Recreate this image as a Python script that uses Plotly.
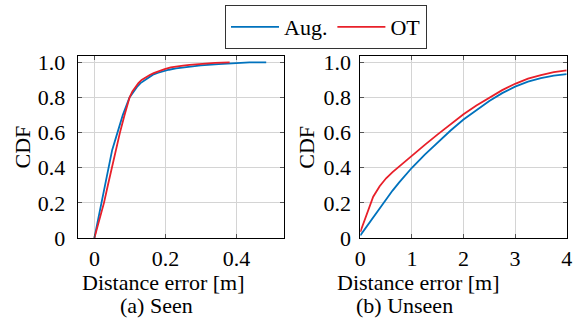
import plotly.graph_objects as go

# ---- data: (a) Seen ----
seen_aug_x = [0, 0.005, 0.01, 0.018, 0.028, 0.039, 0.05, 0.065, 0.08, 0.099, 0.11, 0.12, 0.13, 0.142, 0.155, 0.165, 0.18, 0.194, 0.21, 0.23, 0.25, 0.268, 0.3, 0.35, 0.4, 0.437, 0.484]
seen_aug_y = [0, 0.05, 0.1, 0.2, 0.3, 0.4, 0.5, 0.6, 0.7, 0.8, 0.835, 0.86, 0.882, 0.9, 0.917, 0.93, 0.941, 0.95, 0.958, 0.966, 0.971, 0.975, 0.983, 0.99, 0.995, 1.0, 1.0]
seen_ot_x = [0, 0.007, 0.014, 0.027, 0.038, 0.049, 0.06, 0.072, 0.085, 0.099, 0.107, 0.115, 0.124, 0.133, 0.145, 0.156, 0.167, 0.177, 0.19, 0.198, 0.215, 0.23, 0.25, 0.268, 0.3, 0.34, 0.381]
seen_ot_y = [0, 0.05, 0.1, 0.2, 0.3, 0.4, 0.5, 0.6, 0.7, 0.8, 0.835, 0.86, 0.882, 0.9, 0.916, 0.928, 0.939, 0.947, 0.956, 0.962, 0.971, 0.977, 0.982, 0.986, 0.992, 0.997, 1.0]

# ---- data: (b) Unseen ----
unseen_x = [0, 0.05, 0.15, 0.25, 0.375, 0.5, 0.625, 0.75, 0.875, 1.0, 1.25, 1.5, 1.75, 2.0, 2.25, 2.5, 2.75, 3.0, 3.25, 3.5, 3.75, 4.0]
unseen_aug_y = [0.015, 0.035, 0.075, 0.118, 0.17, 0.222, 0.27, 0.315, 0.358, 0.40, 0.475, 0.545, 0.612, 0.675, 0.73, 0.78, 0.825, 0.862, 0.89, 0.91, 0.924, 0.933]
unseen_ot_y = [0.034, 0.075, 0.16, 0.235, 0.295, 0.34, 0.375, 0.407, 0.438, 0.467, 0.53, 0.59, 0.65, 0.705, 0.755, 0.80, 0.842, 0.878, 0.907, 0.928, 0.944, 0.955]

y_ticks = [0, 0.2, 0.4, 0.6, 0.8, 1.0]
y_tick_text = ["0", "0.2", "0.4", "0.6", "0.8", "1.0"]
seen_x_ticks = [0, 0.2, 0.4]
seen_x_tick_text = ["0", "0.2", "0.4"]
unseen_x_ticks = [0, 1, 2, 3, 4]
unseen_x_tick_text = ["0", "1", "2", "3", "4"]

BLUE = "#0072BD"
RED = "#E8202A"
FONT = "Liberation Serif, Times New Roman, Times, serif"
W, H = 578, 330

fig = go.Figure()
fig.add_trace(go.Scatter(x=seen_aug_x, y=seen_aug_y, mode="lines", name="Aug.",
                         line=dict(color=BLUE, width=1.8), xaxis="x", yaxis="y"))
fig.add_trace(go.Scatter(x=seen_ot_x, y=seen_ot_y, mode="lines", name="OT",
                         line=dict(color=RED, width=1.8), xaxis="x", yaxis="y"))
fig.add_trace(go.Scatter(x=unseen_x, y=unseen_aug_y, mode="lines", name="Aug.", showlegend=False,
                         line=dict(color=BLUE, width=1.8), xaxis="x2", yaxis="y2"))
fig.add_trace(go.Scatter(x=unseen_x, y=unseen_ot_y, mode="lines", name="OT", showlegend=False,
                         line=dict(color=RED, width=1.8), xaxis="x2", yaxis="y2"))

common = dict(showline=True, linecolor="black", linewidth=1, mirror="ticks",
              ticks="inside", ticklen=4, tickcolor="#555555", tickwidth=1,
              showgrid=True, gridcolor="#d4d4d4", gridwidth=1, zeroline=False,
              automargin=False,
              tickfont=dict(family=FONT, size=22, color="black"))

ydom = [1 - 238 / H, 1 - 55.7 / H]
fig.update_layout(
    template="none",
    width=W, height=H,
    margin=dict(l=0, r=0, t=0, b=0),
    paper_bgcolor="white", plot_bgcolor="white",
    font=dict(family=FONT, size=22, color="black"),
    xaxis=dict(domain=[77.7 / W, 284.3 / W], range=[-0.047, 0.535], tickvals=seen_x_ticks,
               ticktext=seen_x_tick_text, anchor="y", ticklabelstandoff=1, **common),
    yaxis=dict(domain=ydom, range=[0, 1.038], tickvals=y_ticks, ticktext=y_tick_text,
               anchor="x", ticklabelstandoff=7, **common),
    xaxis2=dict(domain=[360.3 / W, 566.7 / W], range=[0, 4], tickvals=unseen_x_ticks,
                ticktext=unseen_x_tick_text, anchor="y2", ticklabelstandoff=1, **common),
    yaxis2=dict(domain=ydom, range=[0, 1.038], tickvals=y_ticks, ticktext=y_tick_text,
                anchor="x2", ticklabelstandoff=4, **common),
    legend=dict(orientation="h", x=326 / W, xanchor="center", y=1 - 5 / H, yanchor="top",
                bordercolor="#333333", borderwidth=1, bgcolor="white", itemwidth=48,
                font=dict(family=FONT, size=22, color="black")),
    showlegend=True,
)

def ann(text, px, py, angle=0):
    fig.add_annotation(text=text, x=px / W, y=1 - py / H, xref="paper", yref="paper",
                       xanchor="center", yanchor="middle", showarrow=False, textangle=angle,
                       font=dict(family=FONT, size=22, color="black"))

ann("CDF", 21.5, 147, -90)
ann("CDF", 305.7, 147, -90)
ann("Distance error [m]", 163, 282)
ann("Distance error [m]", 418, 282)
ann("(a) Seen", 156, 305)
ann("(b) Unseen", 404, 305)

fig.write_html("out.html", config={"displayModeBar": False},
               post_script="document.body.style.margin='0';document.body.style.overflow='hidden';")
